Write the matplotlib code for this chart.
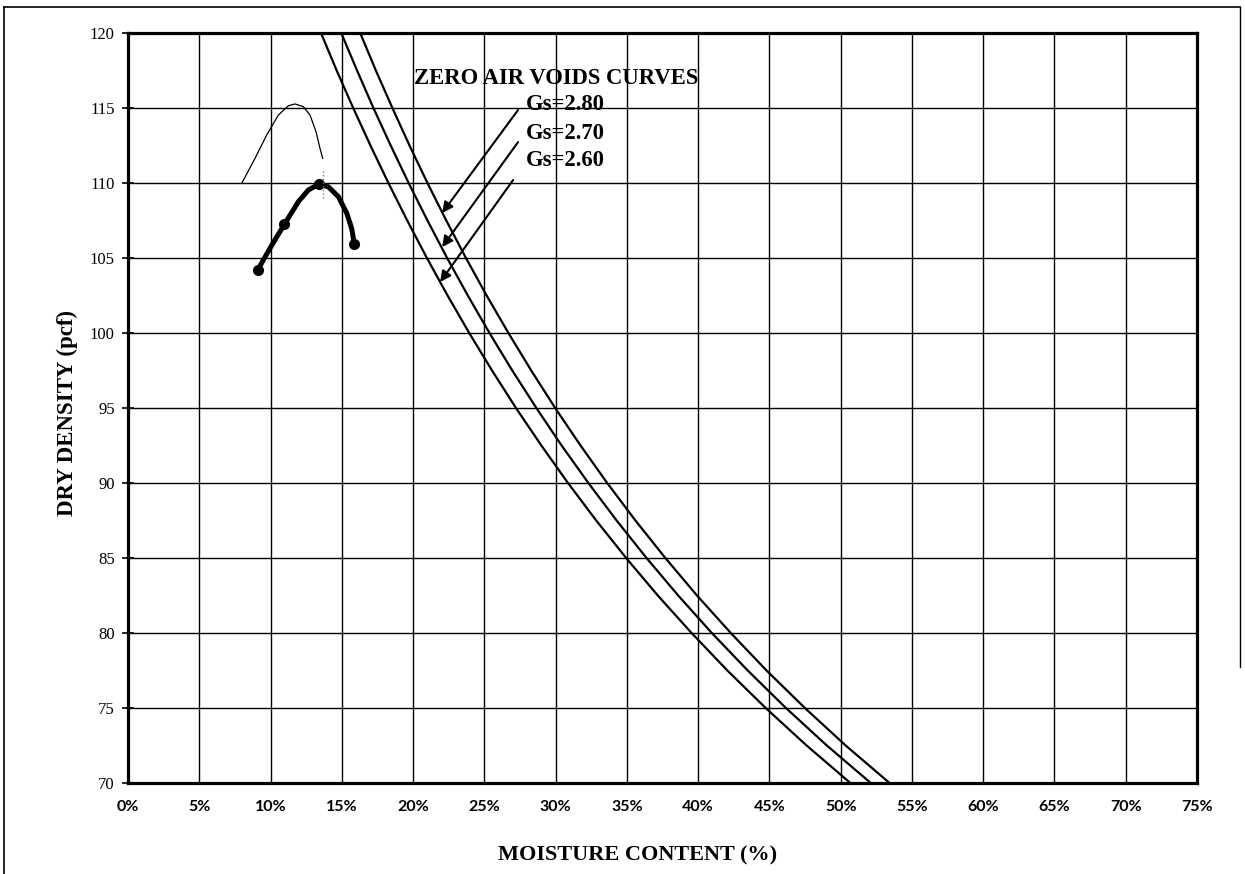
import matplotlib.pyplot as plt
from matplotlib.lines import Line2D

# zero air voids curves: moisture (%) read at each dry density (pcf)
zav_density = [120, 117.5, 115, 112.5, 110, 107.5, 105, 102.5, 100, 97.5, 95,
               92.5, 90, 87.5, 85, 82.5, 80, 77.5, 75, 72.5, 70]
zav_gs260 = [13.54, 14.64, 15.80, 17.01, 18.27, 19.59, 20.97, 22.42, 23.94, 25.54, 27.22,
             29.00, 30.87, 32.85, 34.95, 37.17, 39.54, 42.05, 44.74, 47.61, 50.68]
zav_gs270 = [14.96, 16.07, 17.22, 18.43, 19.69, 21.01, 22.39, 23.84, 25.36, 26.96, 28.65,
             30.42, 32.30, 34.28, 36.38, 38.60, 40.96, 43.48, 46.16, 49.03, 52.11]
zav_gs280 = [16.29, 17.39, 18.55, 19.75, 21.01, 22.33, 23.71, 25.16, 26.69, 28.29, 29.97,
             31.75, 33.62, 35.60, 37.70, 39.92, 42.29, 44.80, 47.49, 50.35, 53.43]

# compaction test points
test_w = [9.10, 10.97, 13.40, 15.88]
test_d = [104.2, 107.24, 109.93, 105.93]
# points
curve_w = [9.10, 10.03, 10.97, 11.95, 12.65, 13.40, 14.05, 14.76, 15.35, 15.69, 15.88]
curve_d = [104.2, 105.76, 107.24, 108.75, 109.53, 109.93, 109.75, 109.09, 107.98, 106.98, 105.93]

# thin curve
thin_w = [7.98, 8.91, 9.73, 10.55, 11.25, 11.72, 12.30, 12.77, 13.19, 13.47, 13.66]
thin_d = [109.98, 111.64, 113.2, 114.53, 115.15, 115.27, 115.09, 114.53, 113.42, 112.31, 111.64]

xticks = list(range(0, 80, 5))
yticks = list(range(70, 125, 5))

fig = plt.figure(figsize=(12.45, 8.74), dpi=100)
ax = fig.add_axes([128 / 1245, 91 / 874, 1069 / 1245, 750 / 874])

ax.set_xlim(0, 75)
ax.set_ylim(70, 120)
ax.set_xticks(xticks)
ax.set_yticks(yticks)
ax.set_xticklabels(['%d%%' % t for t in xticks], fontfamily='Lato', fontweight='bold', fontsize=11.5)
ax.set_yticklabels([str(t) for t in yticks], fontfamily='Liberation Serif', fontsize=12)
ax.tick_params(axis='y', direction='inout', length=9, width=1.2, pad=5)
ax.tick_params(axis='x', length=0, pad=12)
ax.grid(True, color='black', linewidth=1.0)
for s in ax.spines.values():
    s.set_linewidth(2.3)

for w in (zav_gs260, zav_gs270, zav_gs280):
    ax.plot(w, zav_density, color='black', linewidth=1.6, zorder=3)

ax.plot(thin_w, thin_d, color='black', linewidth=0.9, zorder=3)
ax.plot(curve_w, curve_d, color='black', linewidth=3.6, solid_capstyle='round',
        solid_joinstyle='round', zorder=4)
ax.plot(test_w, test_d, 'o', color='black', markersize=7, zorder=5)
ax.plot([13.71, 13.71], [109.0, 110.87], color='gray', linewidth=1.0, linestyle=':', zorder=5)

tfont = dict(fontfamily='Liberation Serif', fontweight='bold', fontsize=16.3)
ax.text(20.1, 116.95, 'ZERO AIR VOIDS CURVES', va='center', ha='left', zorder=6, **tfont)
labels = ['Gs=2.80', 'Gs=2.70', 'Gs=2.60']
label_y = [115.2, 113.33, 111.47]
for lab, ly in zip(labels, label_y):
    ax.text(27.9, ly, lab, va='center', ha='left', zorder=6, **tfont)

arrow_start = [(27.37, 114.87), (27.37, 112.73), (27.02, 110.2)]
arrow_end = [(22.04, 108.0), (22.04, 105.73), (21.9, 103.4)]
for st, en in zip(arrow_start, arrow_end):
    ax.annotate('', xy=en, xytext=st,
                arrowprops=dict(arrowstyle='-|>', color='black', lw=1.5,
                                mutation_scale=16, shrinkA=0, shrinkB=0))

ax.set_xlabel('MOISTURE CONTENT (%)', fontfamily='Liberation Serif', fontweight='bold',
              fontsize=16, va='center')
ax.xaxis.set_label_coords(0.477, -0.097)
ax.set_ylabel('DRY DENSITY (pcf)', fontfamily='Liberation Serif', fontweight='bold',
              fontsize=16.5, va='center')
ax.yaxis.set_label_coords(-0.057, 0.494)

# page border
fig.add_artist(Line2D([4 / 1245, 4 / 1245], [0, 867 / 874], color='black', linewidth=1.2))
fig.add_artist(Line2D([4 / 1245, 1240 / 1245], [867 / 874, 867 / 874], color='black', linewidth=1.2))
fig.add_artist(Line2D([1240 / 1245, 1240 / 1245], [207 / 874, 867 / 874], color='black', linewidth=1.0))

fig.savefig('out.png', dpi=100)
